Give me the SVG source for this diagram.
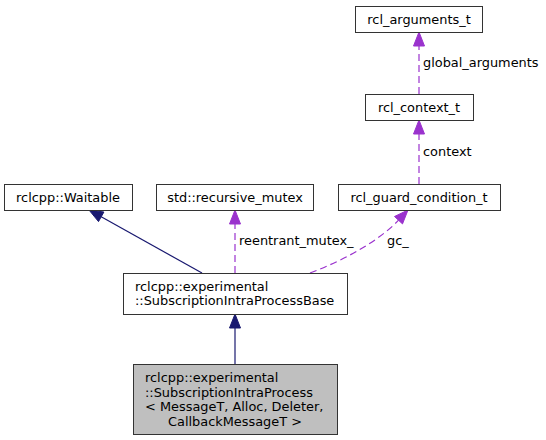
<svg xmlns="http://www.w3.org/2000/svg" width="546" height="440" viewBox="0 0 546 440">
<style>
text{font-family:"DejaVu Sans","Liberation Sans",sans-serif;font-size:12.9px;fill:#000}
.box{fill:#fff;stroke:#333;stroke-width:1}
.cur{fill:#bfbfbf;stroke:#333;stroke-width:1}
.mid{text-anchor:middle}
.inh{fill:none;stroke:#191970;stroke-width:1.2}
.inhh{fill:#191970;stroke:#191970}
.use{fill:none;stroke:#9a32cd;stroke-width:1.2;stroke-dasharray:7,4}
.useh{fill:#9a32cd;stroke:#9a32cd}
</style>
<rect width="546" height="440" fill="#fff"/>
<g id="connectors">
<path class="inh" d="M235,364 L235,328"/>
<polygon class="inhh" points="235,314 240.5,328 229.5,328"/>
<path class="inh" d="M202,273 L101.2,216.8"/>
<polygon class="inhh" points="89,210 103.9,212 98.5,221.6"/>
<path class="use" d="M235,273 L235,224"/>
<polygon class="useh" points="235,210 240.5,224 229.5,224"/>
<text x="239" y="245">reentrant_mutex_</text>
<path class="use" d="M310,273 C345,260 380,240 398.5,220.2"/>
<polygon class="useh" points="408,210 402.5,223.9 394.5,216.5"/>
<text x="387" y="245">gc_</text>
<path class="use" d="M419,184 L419,134"/>
<polygon class="useh" points="419,120 424.5,134 413.5,134"/>
<text x="423" y="156">context</text>
<path class="use" d="M419,94 L419,46"/>
<polygon class="useh" points="419,32 424.5,46 413.5,46"/>
<text x="423" y="67">global_arguments</text>
</g>
<g id="node_arguments">
<rect class="box" x="355.5" y="6.5" width="127" height="26"/>
<text class="mid" x="419" y="24">rcl_arguments_t</text>
</g>
<g id="node_context">
<rect class="box" x="365.5" y="94.5" width="108" height="26"/>
<text class="mid" x="419" y="112">rcl_context_t</text>
</g>
<g id="node_waitable">
<rect class="box" x="4.5" y="184.5" width="128" height="26"/>
<text class="mid" x="68" y="202">rclcpp::Waitable</text>
</g>
<g id="node_mutex">
<rect class="box" x="156.5" y="184.5" width="157" height="26"/>
<text class="mid" x="235" y="202">std::recursive_mutex</text>
</g>
<g id="node_guard">
<rect class="box" x="338.5" y="184.5" width="162" height="26"/>
<text class="mid" x="419" y="202">rcl_guard_condition_t</text>
</g>
<g id="node_base">
<rect class="box" x="123.5" y="273.5" width="224" height="41"/>
<text x="135" y="291">rclcpp::experimental</text>
<text x="135" y="305">::SubscriptionIntraProcessBase</text>
</g>
<g id="node_sub">
<rect class="cur" x="133.5" y="364.5" width="204" height="70"/>
<text x="145" y="382">rclcpp::experimental</text>
<text x="145" y="396.5">::SubscriptionIntraProcess</text>
<text x="145" y="411">&lt; MessageT, Alloc, Deleter,</text>
<text class="mid" x="235" y="425.5">CallbackMessageT &gt;</text>
</g>
</svg>
